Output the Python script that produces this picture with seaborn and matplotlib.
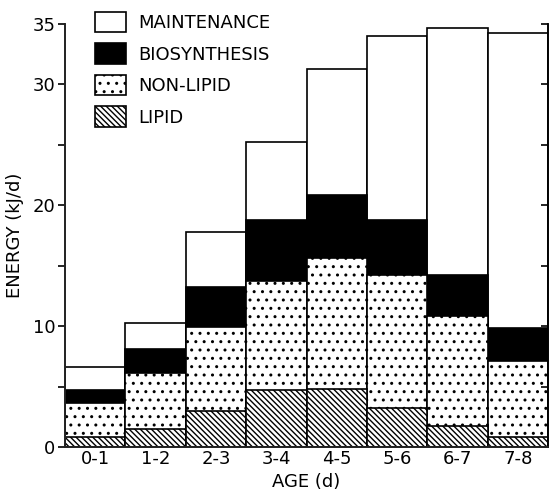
import matplotlib
matplotlib.use("Agg")
import matplotlib.pyplot as plt
import seaborn as sns
import numpy as np
import pandas as pd
from matplotlib.patches import Patch

ages = ["0-1", "1-2", "2-3", "3-4", "4-5", "5-6", "6-7", "7-8"]
lipid = [0.8, 1.45, 3.0, 4.7, 4.8, 3.25, 1.7, 0.8]
non_lipid = [2.8, 4.65, 6.95, 9.05, 10.8, 11.0, 9.15, 6.35]
biosynthesis = [1.15, 2.05, 3.3, 5.05, 5.25, 4.55, 3.4, 2.7]
maintenance = [1.85, 2.1, 4.55, 6.45, 10.45, 15.2, 20.45, 24.4]
series_names = ["MAINTENANCE", "BIOSYNTHESIS", "NON-LIPID", "LIPID"]
y_ticks = [0, 5, 10, 15, 20, 25, 30, 35]
y_ticklabels = ["0", "", "10", "", "20", "", "30", "35"]

sns.set_theme(style="white")
plt.rcParams["font.family"] = ["DejaVu Sans"]
plt.rcParams["hatch.linewidth"] = 1.0
for k in ["text.color", "axes.labelcolor", "xtick.color", "ytick.color"]:
    plt.rcParams[k] = "black"

LIPID_HATCH = "\\" * 6
NONLIPID_HATCH = ".."

c_lip = np.array(lipid)
c_non = c_lip + np.array(non_lipid)
c_bio = c_non + np.array(biosynthesis)
c_tot = c_bio + np.array(maintenance)

fig = plt.figure(figsize=(5.5, 4.95), dpi=100)
ax = fig.add_axes([65/550, 1-447/495, 483/550, 423/495])

layers = [
    (c_tot, "white", None),
    (c_bio, "black", None),
    (c_non, "white", NONLIPID_HATCH),
    (c_lip, "white", LIPID_HATCH),
]
for vals, fc, hatch in layers:
    df = pd.DataFrame({"age": ages, "v": vals})
    sns.barplot(data=df, x="age", y="v", ax=ax, color=fc, width=1.0,
                edgecolor="black", linewidth=1.2, hatch=hatch, saturation=1)

ax.set_ylim(0, 35)
ax.set_xlim(-0.5, 7.5)
ax.set_yticks(y_ticks)
ax.set_yticklabels(y_ticklabels, fontsize=13)
ax.tick_params(axis="y", direction="out", length=5, width=1.2, left=True, pad=2)
ax.tick_params(axis="x", length=0, labelsize=13, pad=2)
for s in ["left", "bottom", "right"]:
    ax.spines[s].set_visible(True)
    ax.spines[s].set_color("black")
    ax.spines[s].set_linewidth(1.2)
ax.spines["top"].set_visible(False)
ax.set_xlabel("AGE (d)", fontsize=13, labelpad=4)
ax.set_ylabel("ENERGY (kJ/d)", fontsize=13, labelpad=6)

ax2 = ax.twinx()
ax2.set_ylim(0, 35)
ax2.set_yticks(y_ticks)
ax2.set_yticklabels([])
ax2.tick_params(axis="y", direction="in", length=5, width=1.2, right=True)
ax2.spines["top"].set_visible(False)
ax2.spines["right"].set_linewidth(1.2)
ax2.spines["right"].set_color("black")
ax2.grid(False)

handles = [
    Patch(facecolor="white", edgecolor="black", linewidth=1.2),
    Patch(facecolor="black", edgecolor="black", linewidth=1.2),
    Patch(facecolor="white", edgecolor="black", linewidth=1.2, hatch=NONLIPID_HATCH),
    Patch(facecolor="white", edgecolor="black", linewidth=1.2, hatch=LIPID_HATCH),
]
leg = ax.legend(handles, series_names, loc="upper left",
                bbox_to_anchor=((95-65)/483, (447-12)/423), frameon=False,
                fontsize=13, handlelength=1.7, handleheight=1.35,
                labelspacing=0.62, handletextpad=0.7, borderpad=0, borderaxespad=0)

fig.savefig("out.png", dpi=100)
